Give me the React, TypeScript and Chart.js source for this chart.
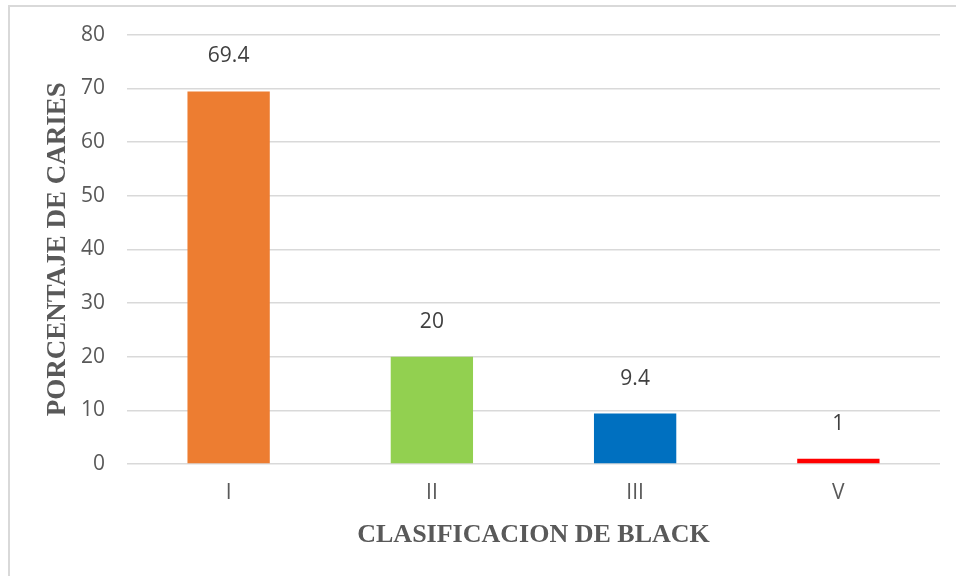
import React, { useEffect, useRef } from "react";
import { Chart, registerables } from "chart.js";

Chart.register(...registerables);

// Black's classification of caries lesions and their share (%)
const categories = ["I", "II", "III", "V"];
const percentages = [69.4, 20, 9.4, 1];
const barColors = ["#ED7D31", "#92D050", "#0070C0", "#FF0000"];
const yTicks = { min: 0, max: 80, step: 10 };
const yTitle = "PORCENTAJE DE CARIES";
const xTitle = "CLASIFICACION DE BLACK";

const W = 956;
const H = 576;

// Light frame around the whole chart
const framePlugin = {
  id: "frame",
  beforeDraw(chart: any) {
    const { ctx } = chart;
    ctx.save();
    ctx.fillStyle = "#ffffff";
    ctx.fillRect(0, 0, chart.width, chart.height);
    ctx.strokeStyle = "#D9D9D9";
    ctx.lineWidth = 2;
    ctx.strokeRect(9, 6, chart.width + 10, chart.height + 10);
    ctx.restore();
  },
};

// Value written above each bar
const valueLabelPlugin = {
  id: "valueLabels",
  afterDatasetsDraw(chart: any) {
    const { ctx } = chart;
    const meta = chart.getDatasetMeta(0);
    const values = chart.data.datasets[0].data as number[];
    ctx.save();
    ctx.font = '21px "Open Sans", sans-serif';
    ctx.fillStyle = "#404040";
    ctx.textAlign = "center";
    ctx.textBaseline = "middle";
    meta.data.forEach((bar: any, i: number) => {
      ctx.fillText(String(values[i]), bar.x, bar.y - 35);
    });
    ctx.restore();
  },
};

export default function App() {
  const canvasRef = useRef<HTMLCanvasElement | null>(null);

  useEffect(() => {
    const canvas = canvasRef.current;
    if (!canvas) return;
    const chart = new Chart(canvas, {
      type: "bar",
      data: {
        labels: categories,
        datasets: [
          {
            data: percentages,
            backgroundColor: barColors,
            borderWidth: 0,
            categoryPercentage: 1,
            barPercentage: 0.405,
          },
        ],
      },
      options: {
        responsive: false,
        animation: false,
        devicePixelRatio: 1,
        layout: { padding: { left: 0, top: 34, right: 16, bottom: 0 } },
        plugins: {
          legend: { display: false },
          tooltip: { enabled: false },
        },
        scales: {
          x: {
            grid: { display: false, drawTicks: false },
            border: { display: false },
            ticks: {
              padding: 16,
              color: "#595959",
              font: { family: '"Open Sans", sans-serif', size: 21 },
            },
            title: {
              display: true,
              text: xTitle,
              color: "#595959",
              font: { family: '"Liberation Serif", "Times New Roman", serif', size: 26, weight: "bold" },
              padding: { top: 0, bottom: 25 },
            },
            afterFit(scale: any) {
              scale.height = 112;
            },
          },
          y: {
            min: yTicks.min,
            max: yTicks.max,
            grid: { color: "#D9D9D9", lineWidth: 1.5, drawTicks: false },
            border: { display: false },
            ticks: {
              stepSize: yTicks.step,
              padding: 22,
              color: "#595959",
              font: { family: '"Open Sans", sans-serif', size: 21 },
            },
            title: {
              display: true,
              text: yTitle,
              color: "#595959",
              font: { family: '"Liberation Serif", "Times New Roman", serif', size: 27, weight: "bold" },
              padding: { top: 42, bottom: 0 },
            },
            afterFit(scale: any) {
              scale.width = 127;
            },
          },
        },
      },
      plugins: [framePlugin, valueLabelPlugin],
    });
    return () => chart.destroy();
  }, []);

  return (
    <div style={{ position: "absolute", left: 0, top: 0, width: W, height: H, background: "#fff" }}>
      <canvas ref={canvasRef} width={W} height={H} style={{ display: "block", width: W, height: H }} />
    </div>
  );
}
